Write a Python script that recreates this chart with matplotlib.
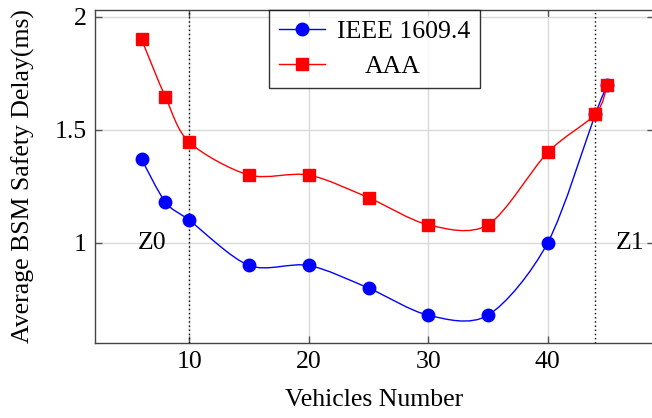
import numpy as np
import matplotlib
matplotlib.use('Agg')
import matplotlib.pyplot as plt
from matplotlib.path import Path
from matplotlib.patches import PathPatch

plt.rcParams['font.family'] = ['Liberation Serif', 'DejaVu Serif']
plt.rcParams['mathtext.fontset'] = 'stix'

vehicles = [6, 8, 10, 15, 20, 25, 30, 35, 40, 44, 45]
ieee_delay = [1.37, 1.18, 1.10, 0.90, 0.90, 0.80, 0.68, 0.68, 1.00, 1.57, 1.70]
aaa_delay = [1.90, 1.645, 1.445, 1.30, 1.30, 1.20, 1.08, 1.08, 1.40, 1.57, 1.70]
zone_lines = [10, 44]
zone_labels = ['Z0', 'Z1']
zone_label_x = [6.9, 46.9]
x_ticks = [10, 20, 30, 40]
y_ticks = [1, 1.5, 2]
y_tick_labels = ['1', '1.5', '2']


def smooth_path(x, y, t=0.15):
    # tikz-like smooth curve: cubic bezier through every point
    pts = np.column_stack([x, y]).astype(float)
    n = len(pts)
    verts = [pts[0]]
    codes = [Path.MOVETO]
    for i in range(n - 1):
        p0 = pts[i - 1] if i > 0 else pts[i]
        p1, p2 = pts[i], pts[i + 1]
        p3 = pts[i + 2] if i + 2 < n else pts[i + 1]
        c1 = p1 + t * (p2 - p0)
        c2 = p2 - t * (p3 - p1)
        verts += [c1, c2, p2]
        codes += [Path.CURVE4] * 3
    return Path(verts, codes)


fig = plt.figure(figsize=(6.52, 4.18), dpi=100)
ax = fig.add_axes([0.1457, 0.1794, 0.8573, 0.7966])

ax.grid(True, color='#d9d9d9', lw=1.0)
ax.set_axisbelow(True)

for xz in zone_lines:
    ax.axvline(xz, color='black', ls=(0, (1, 2)), lw=1.0, zorder=2)

for xs, ys, col, mk, ms, name in [
        (vehicles, ieee_delay, 'blue', 'o', 9, 'IEEE 1609.4'),
        (vehicles, aaa_delay, 'red', 's', 8.5, 'AAA')]:
    ax.add_patch(PathPatch(smooth_path(xs, ys), fill=False, edgecolor=col,
                           lw=1.0, zorder=3))
    ax.plot(xs, ys, ls='none', marker=mk, ms=ms, color=col, zorder=4)
    ax.plot([], [], color=col, marker=mk, ms=ms, lw=1.0, label=name)

for xl, txt in zip(zone_label_x, zone_labels):
    ax.text(xl, 1.0, txt, fontsize=18.5, ha='center', va='center', zorder=5)

ax.set_xlim(2.1, 48.9)
ax.set_ylim(0.557, 2.03)
ax.set_xticks(x_ticks)
ax.set_xticklabels([str(v) for v in x_ticks])
ax.set_yticks(y_ticks)
ax.set_yticklabels(y_tick_labels)
ax.tick_params(direction='in', top=True, right=True, labelsize=18.5,
               color='#555555', length=5, width=1.0, pad=6)
for sp in ax.spines.values():
    sp.set_color('#444444')
    sp.set_linewidth(1.0)

ax.set_xlabel('Vehicles Number', fontsize=18.5, labelpad=11)
ax.set_ylabel('Average BSM Safety Delay(ms)', fontsize=18.5, labelpad=14)

leg = ax.legend(loc='upper left', bbox_to_anchor=(0.311, 1.0), fontsize=18.5,
                frameon=True, fancybox=False, edgecolor='black',
                handlelength=1.8, handletextpad=0.45, borderpad=0.4,
                labelspacing=0.45, borderaxespad=0)
leg.get_frame().set_linewidth(1.0)
# centre the legend texts like pgfplots does
fig.canvas.draw()
renderer = fig.canvas.get_renderer()
widths = [t.get_window_extent(renderer).width for t in leg.get_texts()]
wmax = max(widths)
for t, w in zip(leg.get_texts(), widths):
    t.set_position(((wmax - w) / 2 * 72 / fig.dpi, 0))

fig.savefig('out.png', dpi=100)
